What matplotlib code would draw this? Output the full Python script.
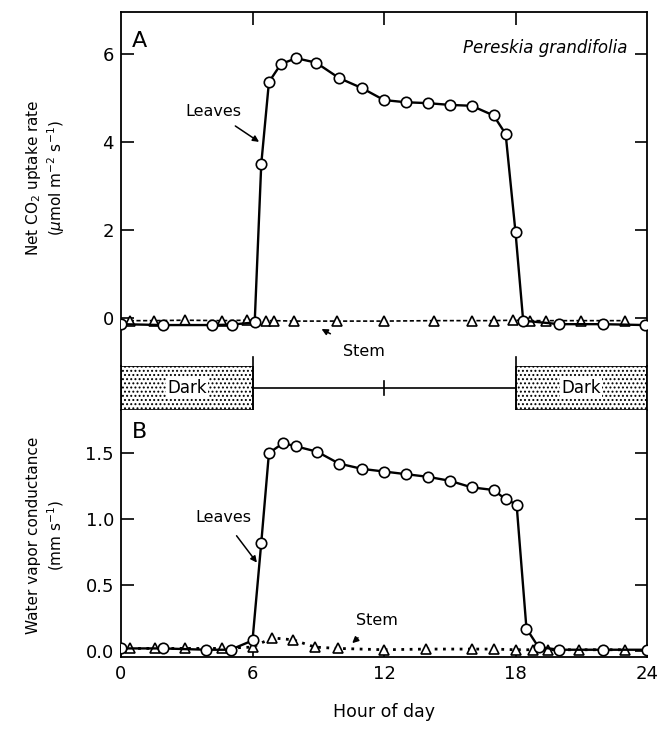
import matplotlib
matplotlib.use("Agg")
import matplotlib.pyplot as plt
from matplotlib.patches import Rectangle

plt.rcParams["font.family"] = ["DejaVu Sans"]
plt.rcParams["hatch.linewidth"] = 0.9

# panel A: net CO2 uptake (umol m-2 s-1)
hours_leaf_a = [0, 1.9, 4.15, 5.05, 6.1, 6.4, 6.75, 7.3, 8.0, 8.9, 9.95, 11.0, 12.0,
                13.0, 14.0, 15.0, 16.0, 17.0, 17.55, 18.0, 18.35, 20.0, 22.0, 23.9]
leaf_a = [-0.14, -0.16, -0.16, -0.15, -0.1, 3.5, 5.36, 5.77, 5.9, 5.8, 5.45, 5.22, 4.95,
          4.9, 4.88, 4.84, 4.82, 4.6, 4.18, 1.95, -0.06, -0.14, -0.14, -0.16]
hours_stem_a = [0.4, 1.5, 2.9, 4.6, 5.75, 6.6, 7.0, 7.9, 9.85, 12.0, 14.3, 16.0, 17.0,
                17.9, 18.65, 19.4, 21.0, 23.0]
stem_a = [-0.06, -0.06, -0.05, -0.06, -0.05, -0.06, -0.06, -0.07, -0.07, -0.07, -0.06,
          -0.06, -0.06, -0.05, -0.06, -0.06, -0.06, -0.06]

# panel B: water vapor conductance (mm s-1)
hours_leaf_b = [0, 1.9, 3.9, 5.0, 6.0, 6.4, 6.75, 7.4, 8.0, 8.95, 9.95, 11.0, 12.0, 13.0,
                14.0, 15.0, 16.0, 17.0, 17.55, 18.05, 18.5, 19.05, 20.0, 22.0, 24.0]
leaf_b = [0.02, 0.02, 0.01, 0.01, 0.08, 0.82, 1.50, 1.575, 1.55, 1.51, 1.42, 1.38, 1.36,
          1.34, 1.32, 1.29, 1.24, 1.22, 1.15, 1.11, 0.17, 0.03, 0.01, 0.01, 0.01]
hours_stem_b = [0.4, 1.55, 2.9, 4.6, 6.0, 6.9, 7.85, 8.85, 9.9, 12.0, 13.9, 16.0, 17.0,
                18.0, 18.8, 19.5, 20.9, 23.0]
stem_b = [0.02, 0.02, 0.02, 0.02, 0.03, 0.10, 0.085, 0.03, 0.02, 0.01, 0.015, 0.015,
          0.015, 0.01, 0.01, 0.01, 0.01, 0.01]

dark_periods = [(0, 6), (18, 24)]
x_ticks = [0, 6, 12, 18, 24]

fig = plt.figure(figsize=(6.72, 7.31), dpi=100)
L, W = 121 / 672, 526 / 672
axA = fig.add_axes([L, 1 - 366 / 731, W, 354 / 731])
axD = fig.add_axes([L, 1 - 410 / 731, W, 44 / 731])
axB = fig.add_axes([L, 1 - 657 / 731, W, 247 / 731])

circ = dict(marker="o", markersize=7.5, markerfacecolor="white",
            markeredgecolor="black", markeredgewidth=1.2)
tri = dict(marker="^", markersize=7.5, markerfacecolor="white",
           markeredgecolor="black", markeredgewidth=1.2)

# --- panel A
axA.plot(hours_stem_a, stem_a, color="black", lw=1.2, dashes=(2.5, 1.5), zorder=3, **tri)
axA.plot(hours_leaf_a, leaf_a, color="black", lw=1.7, zorder=4, **circ)
axA.set_xlim(0, 24)
axA.set_ylim(-1.09, 6.95)
axA.set_yticks([0, 2, 4, 6])
axA.set_xticks([6, 12, 18])
axA.spines["bottom"].set_visible(False)
axA.tick_params(axis="y", direction="in", length=9, width=1.2, labelsize=13,
                right=True, pad=5)
axA.tick_params(axis="x", direction="in", length=9, width=1.2, top=True,
                bottom=False, labelbottom=False)
axA.text(0.5, 6.3, "A", fontsize=16, va="center")
axA.text(23.1, 6.13, "Pereskia grandifolia", fontsize=12, style="italic",
         ha="right", va="center")
axA.annotate("Leaves", xy=(6.3, 4.0), xytext=(4.2, 4.7), fontsize=11.5,
             ha="center", va="center",
             arrowprops=dict(arrowstyle="-|>", color="black", lw=1.1,
                             shrinkA=6, shrinkB=0, mutation_scale=9))
axA.annotate("Stem", xy=(9.15, -0.25), xytext=(11.1, -0.77), fontsize=11.5,
             ha="center", va="center",
             arrowprops=dict(arrowstyle="-|>", color="black", lw=1.1,
                             shrinkA=12, shrinkB=0, mutation_scale=9))

# --- dark / light bar
axD.set_xlim(0, 24)
axD.set_ylim(0, 1)
axD.set_xticks([])
axD.set_yticks([])
for s in ["top", "bottom"]:
    axD.spines[s].set_visible(False)
for a, b in dark_periods:
    axD.add_patch(Rectangle((a, 0), b - a, 1, facecolor="white", edgecolor="black",
                            hatch="....", lw=1.2))
    axD.text((a + b) / 2, 0.5, "Dark", fontsize=12, ha="center", va="center",
             bbox=dict(facecolor="white", edgecolor="none", pad=1))
axD.plot([6, 18], [0.5, 0.5], color="black", lw=1.2)
axD.plot([12, 12], [0.35, 0.65], color="black", lw=1.2)
for h in [6, 18]:
    axD.plot([h, h], [-0.25, 1.2], color="black", lw=1.2, clip_on=False)

# --- panel B
axB.plot(hours_stem_b, stem_b, color="black", lw=2, linestyle=(0, (1, 2)),
         zorder=3, **tri)
axB.plot(hours_leaf_b, leaf_b, color="black", lw=1.7, zorder=4, **circ)
axB.set_xlim(0, 24)
axB.set_ylim(-0.045, 1.826)
axB.set_yticks([0.0, 0.5, 1.0, 1.5])
axB.set_yticklabels(["0.0", "0.5", "1.0", "1.5"])
axB.set_xticks(x_ticks)
axB.spines["top"].set_visible(False)
axB.tick_params(axis="y", direction="in", length=9, width=1.2, labelsize=13,
                right=True, pad=5)
axB.tick_params(axis="x", direction="in", length=9, width=1.2, labelsize=13, pad=6)
axB.set_xlabel("Hour of day", fontsize=12.5, labelpad=14)
axB.text(0.5, 1.66, "B", fontsize=16, va="center")
axB.annotate("Leaves", xy=(6.2, 0.67), xytext=(4.65, 1.01), fontsize=11.5,
             ha="center", va="center",
             arrowprops=dict(arrowstyle="-|>", color="black", lw=1.1,
                             shrinkA=7, shrinkB=0, mutation_scale=9))
axB.annotate("Stem", xy=(10.55, 0.06), xytext=(11.7, 0.235), fontsize=11.5,
             ha="center", va="center",
             arrowprops=dict(arrowstyle="-|>", color="black", lw=1.1,
                             shrinkA=8, shrinkB=0, mutation_scale=9))

for ax in (axA, axD, axB):
    for s in ax.spines.values():
        s.set_linewidth(1.3)

# y-axis labels
fig.text(34 / 672, 1 - 178 / 731, "Net CO$_2$ uptake rate", rotation=90,
         fontsize=11, ha="center", va="center")
fig.text(56 / 672, 1 - 178 / 731, "($\\mu$mol m$^{-2}$ s$^{-1}$)", rotation=90,
         fontsize=11, ha="center", va="center")
fig.text(34 / 672, 1 - 535 / 731, "Water vapor conductance", rotation=90,
         fontsize=11, ha="center", va="center")
fig.text(56 / 672, 1 - 535 / 731, "(mm s$^{-1}$)", rotation=90,
         fontsize=11, ha="center", va="center")

fig.savefig("out.png", dpi=100)
